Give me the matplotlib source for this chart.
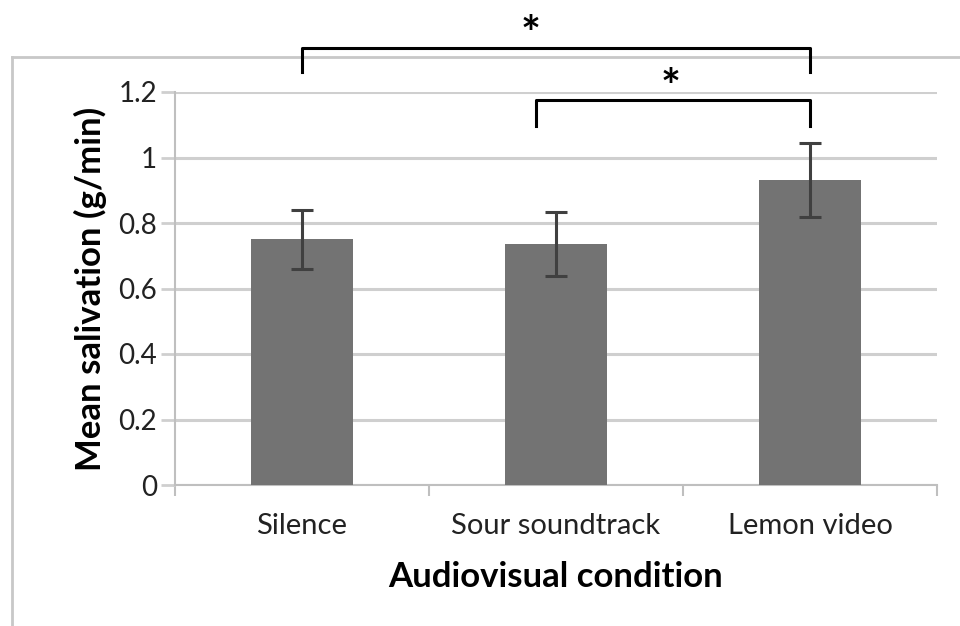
import numpy as np
import matplotlib.pyplot as plt
from matplotlib.lines import Line2D

# data
conditions = ['Silence', 'Sour soundtrack', 'Lemon video']
means = [0.75, 0.735, 0.93]
errors = [0.09, 0.098, 0.113]
y_ticks = [0, 0.2, 0.4, 0.6, 0.8, 1, 1.2]
y_tick_labels = ['0', '0.2', '0.4', '0.6', '0.8', '1', '1.2']

# significance brackets: (x left, x right, top, leg bottom), star (x, y)
brackets = [(0.0, 2.0, 1.334, 1.261), (0.92, 2.0, 1.176, 1.096)]
stars = [(0.90, 1.37), (1.45, 1.21)]

plt.rcParams['font.family'] = ['Lato', 'DejaVu Sans']

fig = plt.figure(figsize=(9.6, 6.26), dpi=100)
ax = fig.add_axes([175/960, 1 - 485/626, (937-175)/960, (485-92)/626])

x = np.arange(len(conditions))
ax.bar(x, means, width=0.4, color='#737373', zorder=3)
ax.errorbar(x, means, yerr=errors, fmt='none', ecolor='#404040',
            elinewidth=2.2, capsize=8, capthick=2.2, zorder=4)

ax.set_xlim(-0.5, 2.5)
ax.set_ylim(0, 1.2)
ax.set_yticks(y_ticks)
ax.set_yticklabels(y_tick_labels, fontsize=20)
ax.set_xticks(x)
ax.set_xticklabels(conditions, fontsize=21)
ax.set_xticks([-0.5, 0.5, 1.5, 2.5], minor=True)
ax.tick_params(axis='x', which='major', length=0, pad=20)
ax.tick_params(axis='x', which='minor', length=8, width=1.5, color='#bfbfbf')
ax.tick_params(axis='y', length=10, width=2, color='#cfcfcf', pad=3)
ax.tick_params(axis='both', labelcolor='#222222')

ax.yaxis.grid(True, color='#cfcfcf', linewidth=2.2, zorder=0)
ax.set_axisbelow(True)
for s in ['top', 'right']:
    ax.spines[s].set_visible(False)
for s in ['left', 'bottom']:
    ax.spines[s].set_color('#bfbfbf')
    ax.spines[s].set_linewidth(1.5)

ax.set_ylabel('Mean salivation (g/min)', fontsize=25, fontweight='bold', labelpad=8)
ax.set_xlabel('Audiovisual condition', fontsize=25, fontweight='bold', labelpad=16)

# significance brackets
for x0, x1, top, bot in brackets:
    ax.plot([x0, x0, x1, x1], [bot, top, top, bot], color='black', lw=2.2,
            clip_on=False, zorder=6, solid_joinstyle='round')
for sx, sy in stars:
    ax.text(sx, sy, '*', fontsize=34, fontweight='bold', ha='center', va='center',
            clip_on=False)

# outer chart frame (top and left edges)
fig.add_artist(Line2D([12/960, 12/960], [0, 1 - 57/626], color='#c8c8c8', lw=2))
fig.add_artist(Line2D([12/960, 1], [1 - 57/626, 1 - 57/626], color='#c8c8c8', lw=2, zorder=0))

fig.savefig('out.png', dpi=100)
